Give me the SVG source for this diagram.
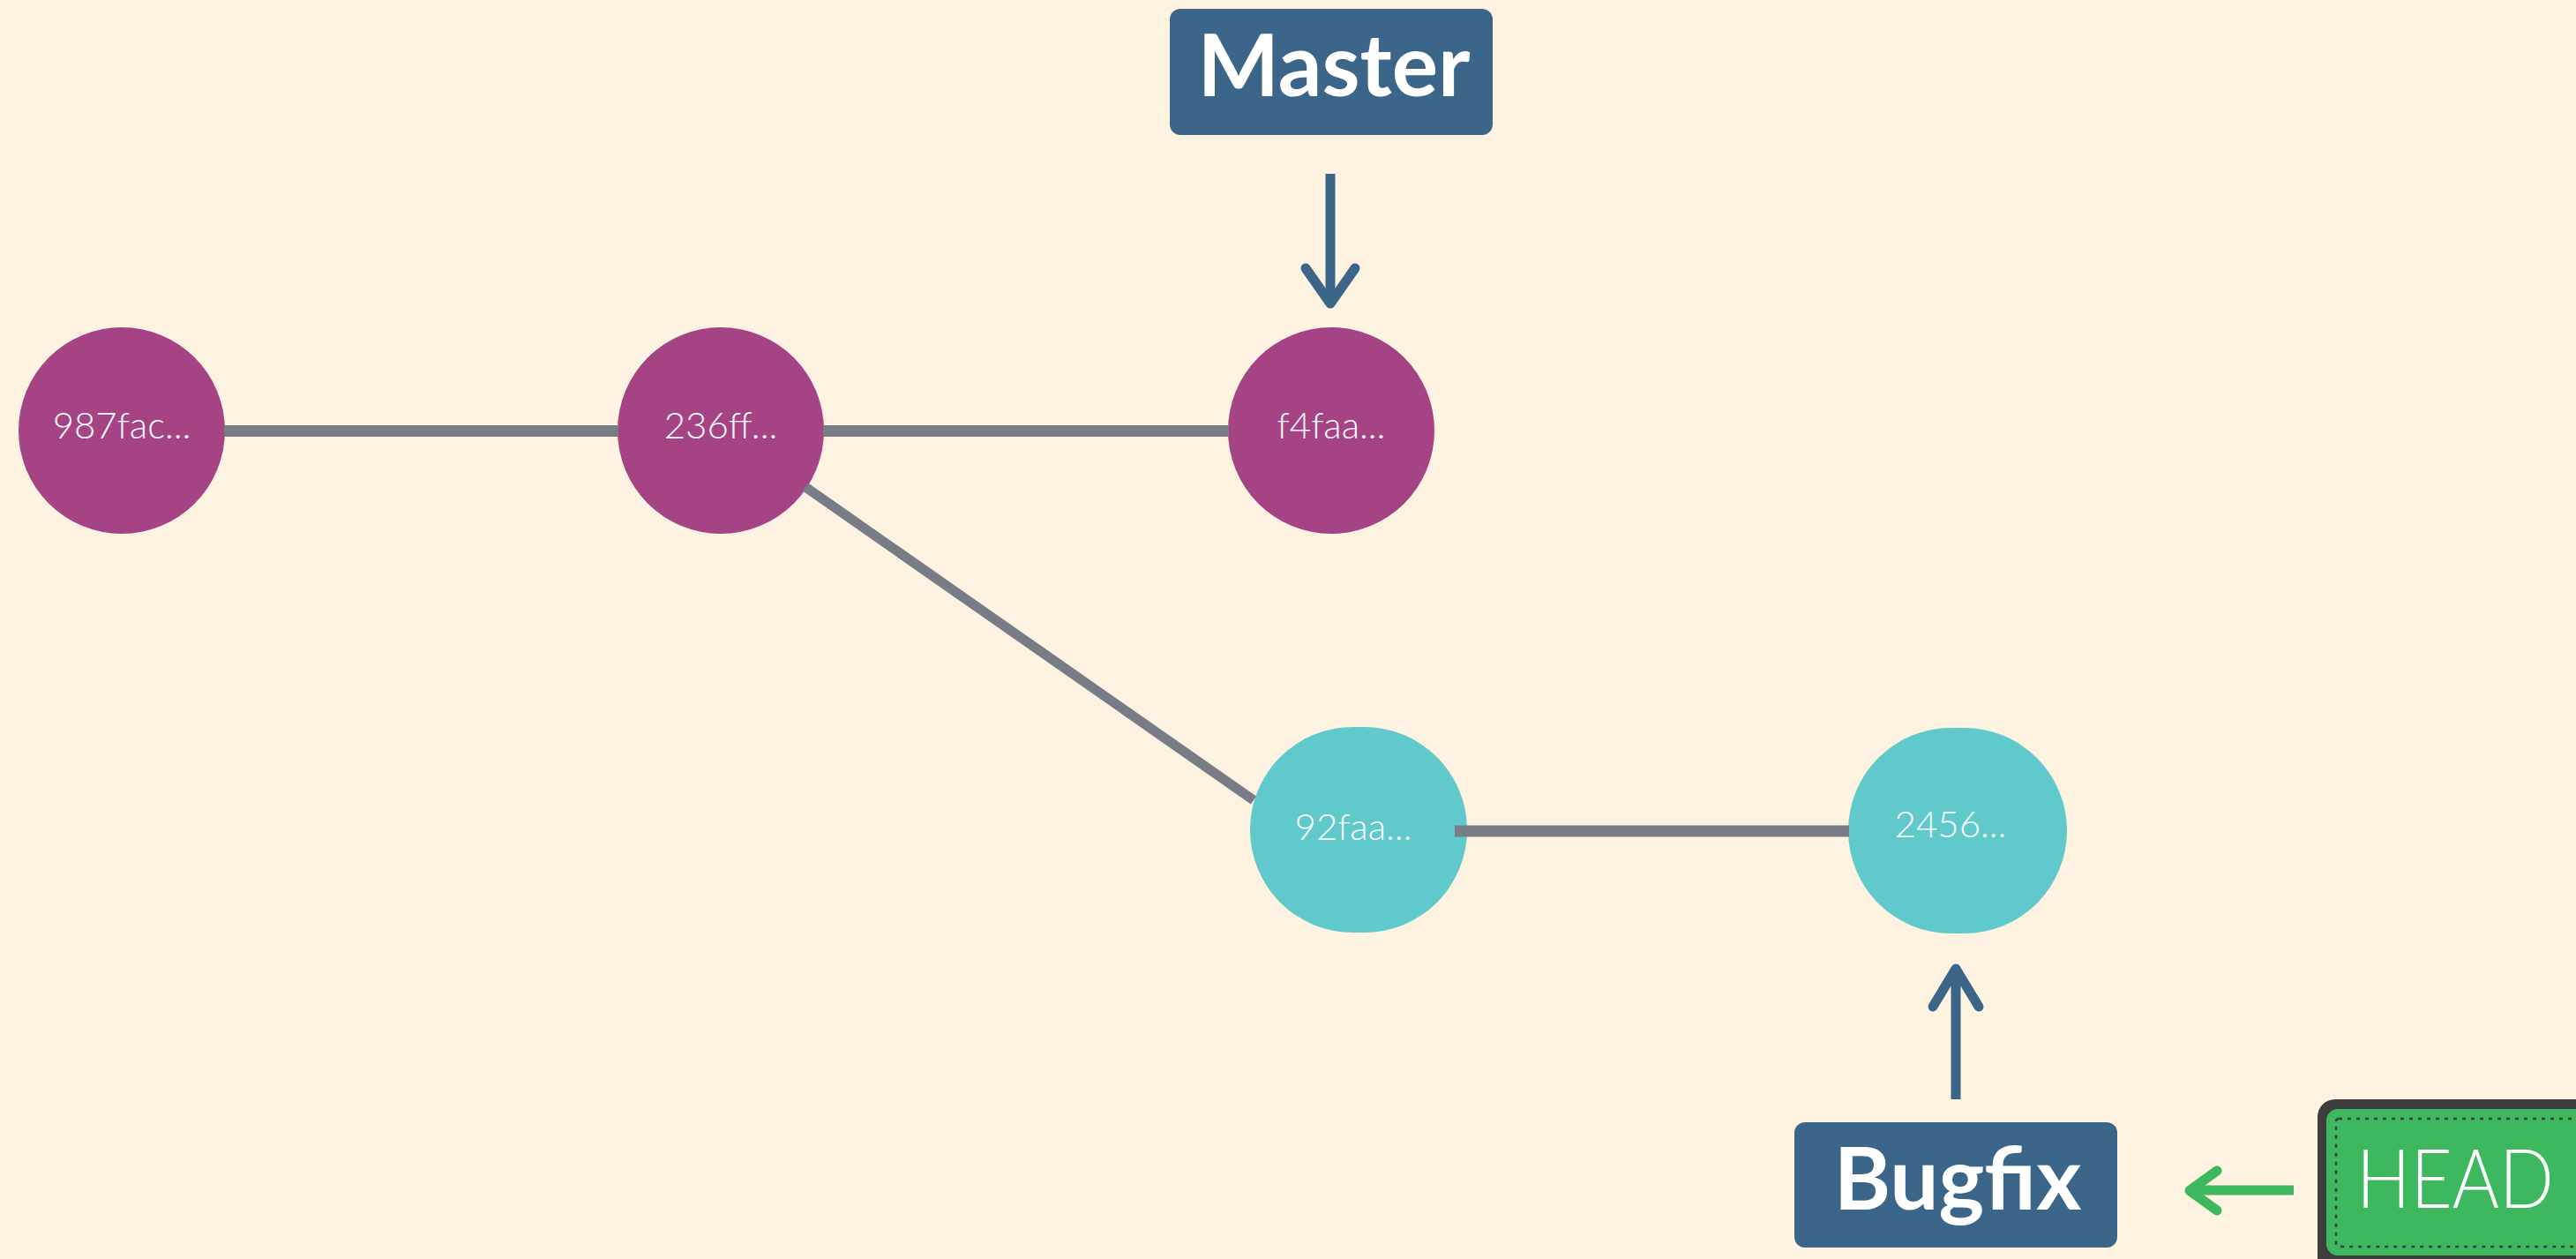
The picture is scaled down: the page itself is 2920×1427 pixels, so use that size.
<svg xmlns="http://www.w3.org/2000/svg" width="2920" height="1427" viewBox="0 0 2920 1427">
<style>
.bg{fill:#FEF3E1}
.master-c{fill:#A64385}
.bug-c{fill:#5FC9CB}
.hash{font-family:Lato,"Open Sans",sans-serif;font-weight:300;font-size:42px;fill:#ffffff;text-anchor:middle}
.edge{stroke:#787C87;stroke-width:13;fill:none}
.diag{stroke:#787C87;stroke-width:11;fill:none}
.branch-box{fill:#3C6689}
.branch-t{font-family:Lato,"Open Sans",sans-serif;font-weight:700;font-size:98px;fill:#ffffff;text-anchor:middle}
.ptr{stroke:#3C6689;stroke-width:11;fill:none}
.ptr-head{stroke:#3C6689;stroke-width:11;fill:none;stroke-linecap:round;stroke-linejoin:round}
.gptr{stroke:#3DB85E;stroke-width:11;fill:none}
.gptr-head{stroke:#3DB85E;stroke-width:11;fill:none;stroke-linecap:round;stroke-linejoin:round}
.head-t{font-family:Lato,"Open Sans",sans-serif;font-weight:300;font-size:93px;fill:#ffffff}
</style>
<rect class="bg" x="0" y="0" width="2920" height="1427"/>

<g id="node-987fac">
<circle class="master-c" cx="138" cy="488" r="117"/>
<text class="hash" x="138" y="497">987fac...</text>
</g>
<g id="node-236ff">
<circle class="master-c" cx="817" cy="488" r="117"/>
<text class="hash" x="817" y="497">236ff...</text>
</g>
<g id="node-f4faa">
<circle class="master-c" cx="1509" cy="488" r="117"/>
<text class="hash" x="1509" y="497">f4faa...</text>
</g>
<g id="node-92faa">
<rect class="bug-c" x="1417" y="824" width="246" height="233" rx="116.5"/>
<text class="hash" x="1534" y="952">92faa...</text>
</g>
<g id="node-2456">
<rect class="bug-c" x="2095" y="825" width="248" height="233" rx="116.5"/>
<text class="hash" x="2211" y="949">2456...</text>
</g>

<g id="connectors">
<line class="edge" x1="254" y1="488.5" x2="701" y2="488.5"/>
<line class="edge" x1="933" y1="488.5" x2="1393" y2="488.5"/>
<line class="diag" x1="913" y1="552" x2="1421" y2="907"/>
<line class="edge" x1="1649" y1="942" x2="2096" y2="942"/>
<line class="ptr" x1="1508" y1="197" x2="1508" y2="340"/>
<path class="ptr-head" d="M1480,304 L1508,344 L1536,304"/>
<line class="ptr" x1="2217" y1="1246" x2="2217" y2="1102"/>
<path class="ptr-head" d="M2191,1141 L2217,1098 L2243,1141"/>
<line class="gptr" x1="2600" y1="1349" x2="2486" y2="1349"/>
<path class="gptr-head" d="M2513,1327 L2482,1349.5 L2513,1372"/>
</g>

<g id="branch-master">
<rect class="branch-box" x="1326" y="10" width="366" height="143" rx="12"/>
<text class="branch-t" x="1512" y="109">Master</text>
</g>
<g id="branch-bugfix">
<rect class="branch-box" x="2034" y="1272" width="366" height="142" rx="12"/>
<text class="branch-t" x="2219" y="1371">Bugfix</text>
</g>
<g id="head">
<rect x="2627" y="1246" width="400" height="300" rx="20" fill="#3D3D3D"/>
<rect x="2637" y="1257" width="400" height="166" rx="13" fill="#3DB85E"/>
<rect x="2648" y="1268" width="400" height="145" rx="3" fill="none" stroke="#3D3D3D" stroke-width="2.5" stroke-dasharray="4 6"/>
<text class="head-t" x="2671" y="1369" textLength="224" lengthAdjust="spacingAndGlyphs">HEAD</text>
</g>
</svg>
